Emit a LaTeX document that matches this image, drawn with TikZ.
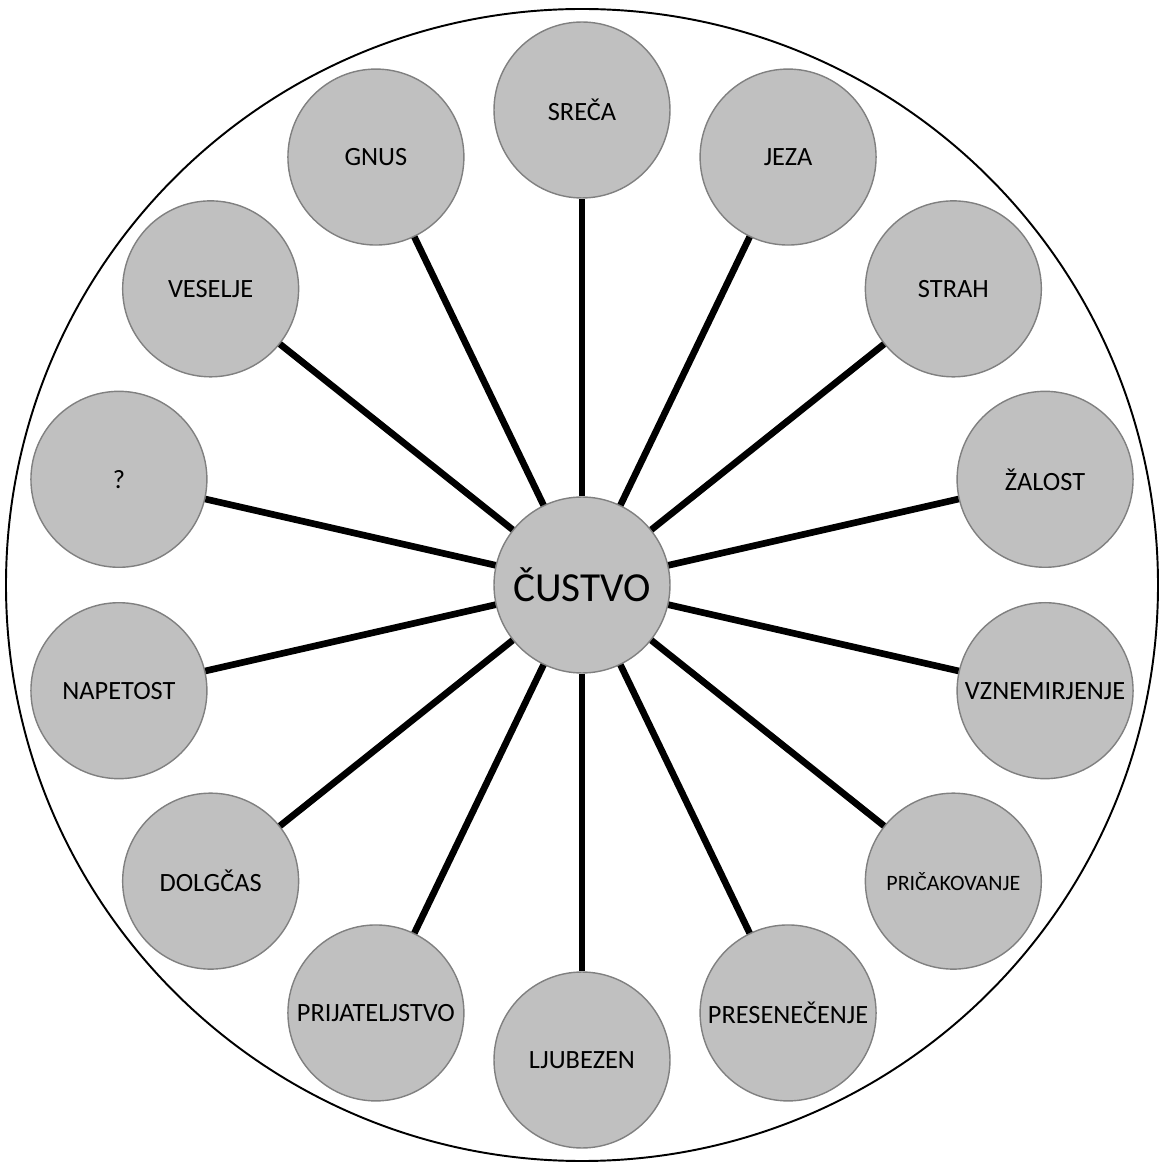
\documentclass[tikz,border=0pt]{standalone}
\usepackage{fontspec}
\setmainfont{Carlito}
\usepackage{tikz}
\definecolor{bubble}{RGB}{192, 192, 192}
\definecolor{rim}{RGB}{128, 128, 128}

\begin{document}
\begin{tikzpicture}[x=0.02cm, y=0.02cm,
    emotion/.style={circle, draw=rim, line width=0.8pt, fill=bubble,
                    minimum size=3.52cm, inner sep=0pt,
                    font=\fontsize{15}{17}\selectfont},
    hub/.style={emotion, font=\fontsize{23.5}{26}\selectfont},
    spoke/.style={line width=3.8pt, black}]

  \useasboundingbox (-582, -584) rectangle (579, 585);

  % outer ring
  \draw[line width=1.1pt] (0, 0) circle (576);

  \node[hub] (core) at (0, 0) {ČUSTVO};

  % fourteen emotions, clockwise from the top
  \foreach \lbl [count=\i from 0] in {SREČA, JEZA, STRAH, ŽALOST, VZNEMIRJENJE,
      {\fontsize{12.5}{14}\selectfont PRIČAKOVANJE}, PRESENEČENJE, LJUBEZEN,
      PRIJATELJSTVO, DOLGČAS, NAPETOST, ?, VESELJE, GNUS} {
    \pgfmathsetmacro{\ang}{90 - \i * 360 / 14}
    \node[emotion] (e\i) at (\ang:475) {\lbl};
    \draw[spoke] (core) -- (e\i);
  }

\end{tikzpicture}
\end{document}
